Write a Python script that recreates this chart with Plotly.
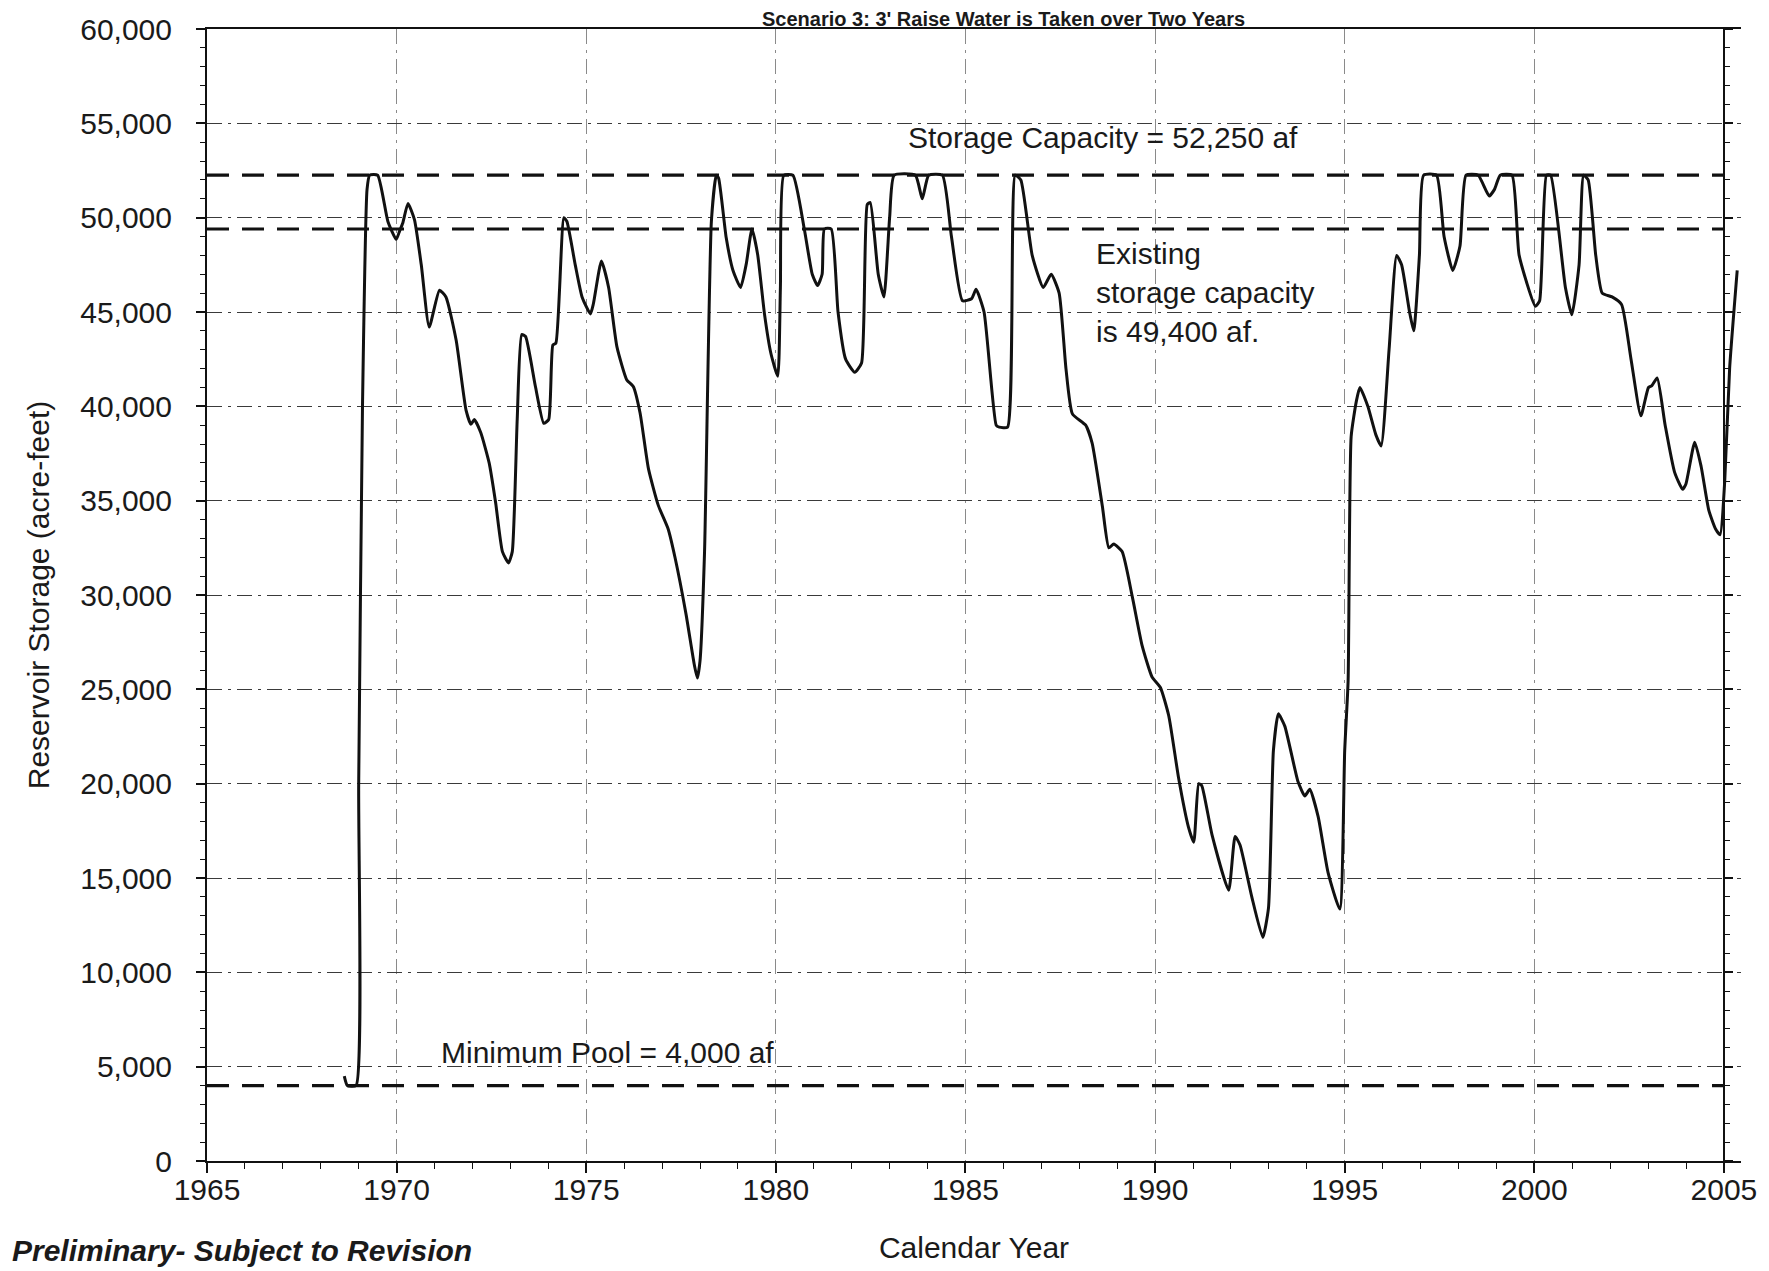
import plotly.graph_objects as go

# ---------------- data ----------------
TITLE = "Scenario 3: 3' Raise Water is Taken over Two Years"
X_TITLE = "Calendar Year"
Y_TITLE = "Reservoir Storage (acre-feet)"
NOTE = "Preliminary- Subject to Revision"

STORAGE_CAPACITY = 52250
EXISTING_CAPACITY = 49400
MIN_POOL = 4000

X_START = 1965
X_FRAME = 2005
X_END = 2005.45
Y_MAX = 60000

YEARS = [
    1968.62, 1968.70, 1968.93, 1969.00, 1969.10, 1969.22, 1969.29, 1969.50, 1969.77, 1969.99,
    1970.08, 1970.16, 1970.30, 1970.47, 1970.65, 1970.86, 1971.13, 1971.30, 1971.57, 1971.83,
    1971.96, 1972.05, 1972.22, 1972.44, 1972.61, 1972.79, 1972.95, 1973.05, 1973.18, 1973.30,
    1973.40, 1973.66, 1973.88, 1974.01, 1974.12, 1974.20, 1974.41, 1974.49, 1974.71, 1974.89,
    1975.11, 1975.19, 1975.40, 1975.59, 1975.81, 1976.07, 1976.24, 1976.42, 1976.64, 1976.90,
    1977.16, 1977.34, 1977.63, 1977.85, 1977.93, 1978.00, 1978.12, 1978.30, 1978.43, 1978.49,
    1978.69, 1978.87, 1979.07, 1979.22, 1979.37, 1979.52, 1979.70, 1979.87, 1980.05, 1980.12,
    1980.21, 1980.45, 1980.75, 1980.96, 1981.10, 1981.22, 1981.28, 1981.46, 1981.64, 1981.84,
    1982.08, 1982.26, 1982.41, 1982.49, 1982.70, 1982.85, 1983.00, 1983.12, 1983.68, 1983.86,
    1984.03, 1984.39, 1984.63, 1984.92, 1985.16, 1985.28, 1985.49, 1985.81, 1985.89, 1986.11,
    1986.31, 1986.46, 1986.76, 1987.05, 1987.26, 1987.47, 1987.65, 1987.82, 1988.17, 1988.34,
    1988.61, 1988.78, 1988.91, 1989.13, 1989.40, 1989.66, 1989.92, 1990.14, 1990.36, 1990.62,
    1990.88, 1991.02, 1991.15, 1991.23, 1991.50, 1991.94, 1992.11, 1992.24, 1992.55, 1992.84,
    1992.99, 1993.12, 1993.25, 1993.42, 1993.77, 1993.95, 1994.08, 1994.30, 1994.56, 1994.87,
    1995.00, 1995.09, 1995.17, 1995.31, 1995.40, 1995.61, 1995.82, 1995.96, 1996.17, 1996.37,
    1996.50, 1996.71, 1996.82, 1996.97, 1997.08, 1997.42, 1997.62, 1997.85, 1998.04, 1998.20,
    1998.52, 1998.81, 1998.95, 1999.10, 1999.41, 1999.60, 2000.03, 2000.14, 2000.32, 2000.43,
    2000.82, 2000.99, 2001.18, 2001.30, 2001.42, 2001.62, 2001.79, 2002.05, 2002.30, 2002.55,
    2002.81, 2003.01, 2003.10, 2003.24, 2003.45, 2003.70, 2003.91, 2004.00, 2004.23, 2004.40,
    2004.60, 2004.78, 2004.90, 2005.02, 2005.15, 2005.35,
]

STORAGE_AF = [
    4500, 4000, 4000, 20000, 40000, 51500, 52250, 52250, 49800, 48850,
    49300, 49700, 50750, 49900, 47500, 44200, 46150, 45800, 43500, 39800,
    39050, 39300, 38600, 37000, 34900, 32300, 31700, 32300, 39300, 43800,
    43700, 41050, 39100, 39300, 43250, 43350, 50000, 49800, 47500, 45800,
    44900, 45450, 47700, 46300, 43150, 41400, 41050, 39650, 36700, 34750,
    33500, 32000, 29000, 26300, 25600, 26500, 32300, 49800, 52250, 52100,
    48950, 47200, 46300, 47550, 49400, 48050, 44900, 42800, 41600, 46300,
    52250, 52250, 49400, 47000, 46400, 47000, 49400, 49400, 45000, 42500,
    41800, 42300, 50700, 50800, 47000, 45800, 50000, 52250, 52250, 51000,
    52250, 52250, 49000, 45600, 45700, 46200, 45000, 39000, 38900, 38900,
    52250, 52000, 48000, 46300, 47000, 46000, 42000, 39600, 39000, 38050,
    34700, 32500, 32700, 32300, 29900, 27300, 25650, 25100, 23600, 20300,
    17700, 16900, 20000, 19900, 17300, 14350, 17200, 16750, 14000, 11850,
    13400, 21750, 23700, 23050, 20100, 19350, 19700, 18250, 15300, 13350,
    21750, 25450, 38400, 40300, 41000, 40000, 38500, 37900, 43000, 48000,
    47500, 45000, 44000, 48000, 52250, 52250, 49000, 47200, 48500, 52250,
    52250, 51150, 51500, 52250, 52250, 48000, 45300, 45600, 52250, 52250,
    46300, 44850, 47500, 52250, 52000, 48000, 46000, 45800, 45400, 42500,
    39500, 41000, 41100, 41500, 39000, 36500, 35600, 35900, 38100, 36800,
    34500, 33500, 33200, 36000, 42000, 47200,
]

X_TICKS = list(range(1965, 2006, 5))
Y_TICKS = list(range(0, 60001, 5000))
Y_TICK_TEXT = ["{:,}".format(v) for v in Y_TICKS]

# ---------------- figure ----------------
FONT = "Liberation Sans, Arial, sans-serif"
INK = "#1a1a1a"
W, H = 1769, 1271
ML, MR, MT, MB = 207, 21, 23, 107

fig = go.Figure()

for level in (STORAGE_CAPACITY, EXISTING_CAPACITY, MIN_POOL):
    fig.add_trace(go.Scatter(
        x=[X_START, X_FRAME], y=[level, level], mode="lines",
        line=dict(color="#111111", width=3.2, dash="22px,13px"),
        hoverinfo="skip", showlegend=False,
    ))

fig.add_trace(go.Scatter(
    x=YEARS, y=STORAGE_AF, mode="lines",
    line=dict(color="#111111", width=3, shape="spline", smoothing=0.5),
    showlegend=False, name="Storage",
))

# invisible trace to carry the right-hand frame axis at 2005
fig.add_trace(go.Scatter(
    x=[X_FRAME], y=[0], yaxis="y2", mode="markers",
    marker=dict(opacity=0, size=1), hoverinfo="skip", showlegend=False,
))

axis_font = dict(family=FONT, size=30, color=INK)

fig.update_layout(
    width=W, height=H,
    margin=dict(l=ML, r=MR, t=MT, b=MB),
    paper_bgcolor="white", plot_bgcolor="white",
    font=axis_font,
    showlegend=False,
    xaxis=dict(
        range=[X_START, X_END], tickvals=X_TICKS, ticktext=[str(v) for v in X_TICKS],
        ticks="outside", ticklen=10, tickwidth=1.5, tickcolor="#111",
        minor=dict(dtick=1, tick0=X_START, ticks="outside", ticklen=6, tickcolor="#111",
                   tickwidth=1, showgrid=False),
        showline=True, linecolor="#111", linewidth=2, mirror=True,
        showgrid=True, gridcolor="#8a8a8a", gridwidth=1, griddash="longdashdot",
        zeroline=False, tickfont=axis_font, ticklabelstandoff=-9,
        title=dict(text=X_TITLE, font=axis_font, standoff=32),
    ),
    yaxis=dict(
        range=[0, Y_MAX], tickvals=Y_TICKS, ticktext=Y_TICK_TEXT,
        ticks="outside", ticklen=9, tickwidth=1.5, tickcolor="#111",
        minor=dict(dtick=1000, tick0=0, ticks="outside", ticklen=5, tickcolor="#111",
                   tickwidth=1, showgrid=False),
        showline=True, linecolor="#111", linewidth=2,
        showgrid=True, gridcolor="#3a3a3a", gridwidth=1, griddash="longdashdot",
        zeroline=False, tickfont=axis_font, ticklabelstandoff=18,
        title=dict(text=Y_TITLE, font=axis_font, standoff=22),
    ),
    yaxis2=dict(
        range=[0, Y_MAX], overlaying="y", anchor="free",
        position=(X_FRAME - X_START) / (X_END - X_START), side="right",
        showline=True, linecolor="#111", linewidth=1.8,
        ticks="outside", ticklen=8, tickwidth=1.5, tickcolor="#111", dtick=5000,
        minor=dict(dtick=1000, ticks="outside", ticklen=5, tickcolor="#111", tickwidth=1),
        showticklabels=False, showgrid=False, zeroline=False,
    ),
)

PH = H - MT - MB
PW = W - ML - MR
ann_font = dict(family=FONT, size=30, color=INK)
fig.add_annotation(x=1983.42, y=STORAGE_CAPACITY, yshift=38, text="Storage Capacity = 52,250 af",
                   showarrow=False, xanchor="left", yanchor="middle", font=ann_font)
fig.add_annotation(x=1988.38, y=EXISTING_CAPACITY, yshift=-6,
                   text="Existing<br>storage capacity<br>is 49,400 af.",
                   showarrow=False, xanchor="left", yanchor="top", align="left", font=ann_font)
fig.add_annotation(x=1971.11, y=MIN_POOL, yshift=33, text="Minimum Pool = 4,000 af",
                   showarrow=False, xanchor="left", yanchor="middle", font=ann_font)
fig.add_annotation(xref="paper", yref="paper", x=(9 - ML) / PW, y=-(1254 - (H - MB)) / PH,
                   text="<b><i>" + NOTE + "</i></b>", showarrow=False,
                   xanchor="left", yanchor="middle", font=ann_font)
fig.add_annotation(xref="paper", yref="paper", x=(1007 - ML) / PW, y=1 + MT / PH,
                   text="<b>" + TITLE + "</b>", showarrow=False,
                   xanchor="center", yanchor="top", font=dict(family=FONT, size=20, color=INK))

fig.write_html("out.html", config={"displayModeBar": False},
               post_script="document.body.style.margin='0px';")
